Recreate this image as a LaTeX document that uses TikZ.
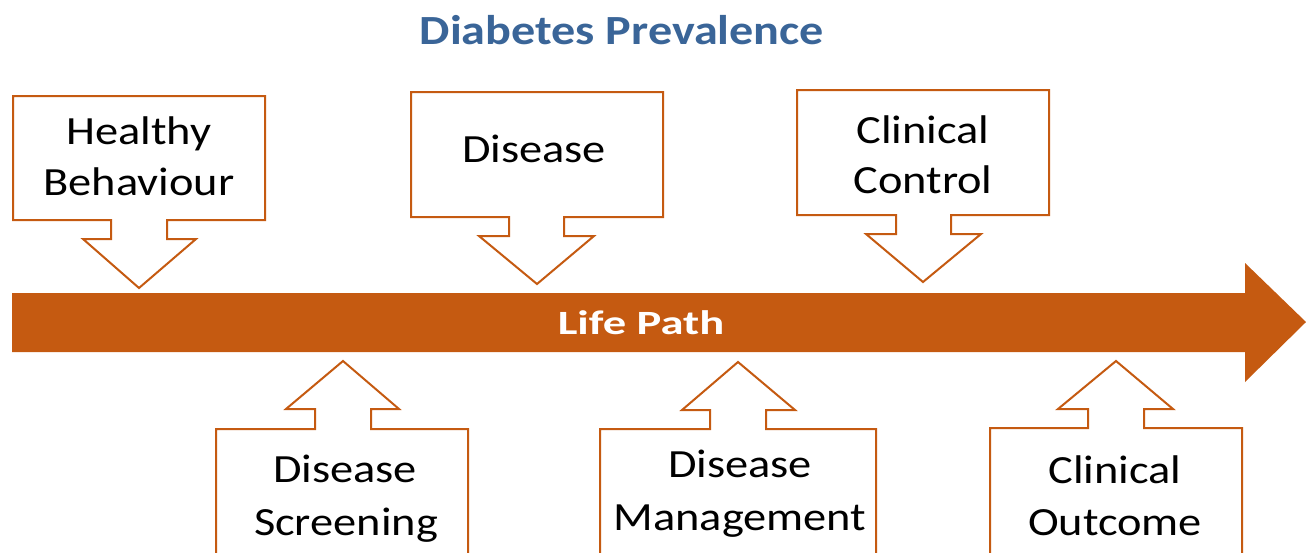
\documentclass[tikz,border=0pt]{standalone}
\usepackage{fontspec}
\setmainfont[FakeStretch=1.16]{Carlito}
\definecolor{orng}{HTML}{C55A11}
\definecolor{ttl}{HTML}{3A6598}
\begin{document}
\begin{tikzpicture}[x=1pt,y=-1pt,
  callout/.style={draw=orng, line width=2pt, fill=white, line join=miter},
  lbl/.style={anchor=base, inner sep=0pt, font=\fontsize{40}{48}\selectfont, text=black}]
\useasboundingbox (0,0) rectangle (1306,552);
\clip (0,0) rectangle (1306,552);
% title
\node[anchor=base, inner sep=0pt, text=ttl, font=\fontsize{41.5}{50}\selectfont\bfseries] (title) at (622,44) {Diabetes Prevalence};
% life path arrow
\fill[orng] (12,293) -- (1245,293) -- (1245,263) -- (1306,322) -- (1245,382) -- (1245,352) -- (12,352) -- cycle;
\node[anchor=base, inner sep=0pt, text=white, font=\fontsize{34}{40}\selectfont\bfseries] (life) at (641,334) {\scalebox{1.18}[1]{Life Path}};
% down callouts
\draw[callout] (13,96) -- (265,96) -- (265,220) -- (167,220) -- (167,239) -- (196,239) -- (139,288) -- (83,239) -- (111,239) -- (111,220) -- (13,220) -- cycle;
\node[lbl] (hb1) at (139,144) {Healthy};
\node[lbl] (hb2) at (139,195) {Behaviour};
\draw[callout] (411,92) -- (663,92) -- (663,217) -- (564,217) -- (564,236) -- (594,236) -- (537,284) -- (479,236) -- (509,236) -- (509,217) -- (411,217) -- cycle;
\node[lbl] (dis) at (534,162) {Disease};
\draw[callout] (797,90) -- (1049,90) -- (1049,215) -- (951,215) -- (951,234) -- (981,234) -- (923,282) -- (866,234) -- (896,234) -- (896,215) -- (797,215) -- cycle;
\node[lbl] (cc1) at (923,143) {Clinical};
\node[lbl] (cc2) at (923,193) {Control};
% up callouts
\draw[callout] (216,560) -- (216,429) -- (315,429) -- (315,409) -- (286,409) -- (343,361) -- (399,409) -- (371,409) -- (371,429) -- (468,429) -- (468,560);
\node[lbl] (ds1) at (345,482) {Disease};
\node[lbl] (ds2) at (346,535) {Screening};
\draw[callout] (600,560) -- (600,429) -- (710,429) -- (710,410) -- (682,410) -- (738,362) -- (795,410) -- (766,410) -- (766,429) -- (876,429) -- (876,560);
\node[lbl] (dm1) at (740,477) {Disease};
\node[lbl] (dm2) at (740,530) {Management};
\draw[callout] (990,560) -- (990,428) -- (1088,428) -- (1088,409) -- (1058,409) -- (1116,361) -- (1173,409) -- (1144,409) -- (1144,428) -- (1242,428) -- (1242,560);
\node[lbl] (co1) at (1115,483) {Clinical};
\node[lbl] (co2) at (1115,535) {Outcome};
\end{tikzpicture}
\end{document}
